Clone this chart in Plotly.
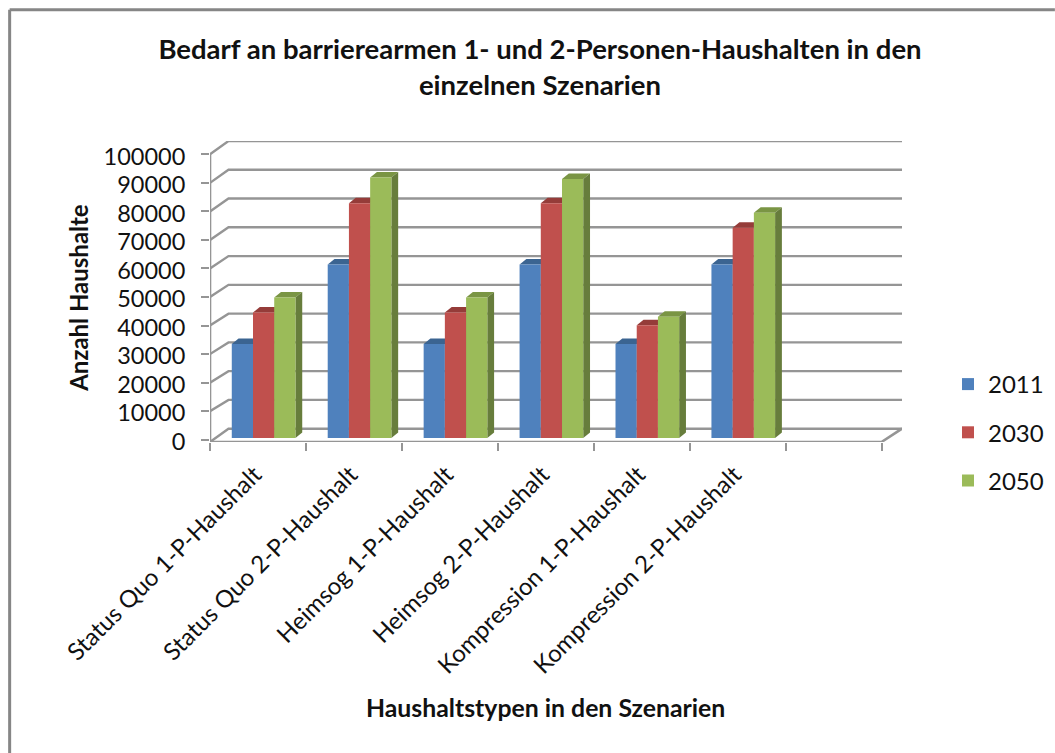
import plotly.graph_objects as go

categories = ["Status Quo 1-P-Haushalt", "Status Quo 2-P-Haushalt", "Heimsog 1-P-Haushalt",
              "Heimsog 2-P-Haushalt", "Kompression 1-P-Haushalt", "Kompression 2-P-Haushalt"]
v2011 = [33000, 60800, 33000, 60800, 33000, 60800]
v2030 = [44000, 82300, 44000, 82300, 39500, 73700]
v2050 = [49300, 91300, 49300, 90800, 42500, 79000]
names = ["2011", "2030", "2050"]
y_ticks = list(range(0, 100001, 10000))

W, H = 1055, 753
L, R, T, B = 209.5, 902, 141, 441.6
PX_X = 96.0
PX_Y = 0.00285
Y0_PX = 439.3
FONT = "Lato"
GRID = "#959595"

front = ["#4F81BD", "#C0504D", "#9BBB59"]
topc = ["#3B6491", "#953C39", "#7A9544"]
sidec = ["#3A5F8C", "#8E3A38", "#677D3C"]

ux = lambda px: (px - L) / PX_X          # pixel offset -> x units
uy = lambda py: (Y0_PX - py) / PX_Y      # pixel row -> y units
xr = [0, ux(R)]
yr = [uy(B), uy(T)]
pl_x = lambda p: (p - L) / (R - L)       # pixel column -> plot fraction
pl_y = lambda p: (B - p) / (B - T)       # pixel row -> plot fraction

fig = go.Figure()

# walls
wall_gain, wall_lift = 1.008, uy(428.3)
depth_x = 18.5 / PX_X
for v in y_ticks:
    yb = v * wall_gain + wall_lift
    y_front = v if v else yr[0]
    fig.add_trace(go.Scatter(x=[0, depth_x, xr[1]], y=[y_front, yb, yb], mode="lines", cliponaxis=False,
                             line=dict(color=GRID, width=2.4), showlegend=False, hoverinfo="skip"))
# axis lines and floor edge
fig.add_trace(go.Scatter(x=[0, 0], y=[yr[0], 100000], mode="lines", cliponaxis=False,
                         line=dict(color=GRID, width=2.6), showlegend=False, hoverinfo="skip"))
fig.add_trace(go.Scatter(x=[0, 7, xr[1]], y=[yr[0], yr[0], wall_lift], mode="lines", cliponaxis=False,
                         line=dict(color=GRID, width=2.6), showlegend=False, hoverinfo="skip"))

# bars geometry
GROUP = 63.7 / PX_X
bar_w = GROUP / 3
centers = [i + (21.8 / PX_X) + GROUP / 2 for i in range(len(categories))]
base = uy(437.7)
dx, dy = 6.8 / PX_X, 5.5 / PX_Y

series = [v2011, v2030, v2050]
# top and side faces are drawn on the lower axes, so the front faces cover what is hidden
for s, vals in enumerate(series):
    for c, val in zip(centers, vals):
        x0 = c - GROUP / 2 + s * bar_w
        x1 = x0 + bar_w
        t = base + val
        fig.add_trace(go.Scatter(x=[x0, x1, x1 + dx, x0 + dx, x0], y=[t, t, t + dy, t + dy, t],
                                 mode="lines", fill="toself", fillcolor=topc[s], line=dict(width=0),
                                 showlegend=False, hoverinfo="skip"))
        fig.add_trace(go.Scatter(x=[x1, x1 + dx, x1 + dx, x1, x1], y=[base, base + dy, t + dy, t, base],
                                 mode="lines", fill="toself", fillcolor=sidec[s], line=dict(width=0),
                                 showlegend=False, hoverinfo="skip"))

for s, vals in enumerate(series):
    fig.add_trace(go.Bar(x=centers, y=vals, base=base, name=names[s], width=bar_w,
                         offset=(s - 1.5) * bar_w, marker=dict(color=front[s], line=dict(width=0)),
                         xaxis="x2", yaxis="y2", legendgroup=names[s]))

fig.update_layout(
    width=W, height=H, autosize=False, margin=dict(l=L, r=W - R, t=T, b=H - B, pad=0),
    paper_bgcolor="white", plot_bgcolor="white",
    font=dict(family=FONT, size=24, color="#111111"),
    barmode="overlay",
    xaxis=dict(range=xr, tickmode="array", tickvals=list(range(8)), ticktext=[""] * 8, ticks="outside",
               ticklen=8, tickwidth=2.4, tickcolor=GRID, showgrid=False, zeroline=False, showline=False),
    yaxis=dict(range=yr, tickmode="array", tickvals=y_ticks, ticktext=[str(v) for v in y_ticks], ticks="outside",
               ticklen=8, tickwidth=2.4, tickcolor=GRID, showgrid=False, zeroline=False, showline=False,
               tickfont=dict(size=23.5), ticklabelstandoff=11, ticklabelshift=2),
    xaxis2=dict(range=xr, overlaying="x", anchor="y2", side="bottom", tickmode="array", tickvals=centers,
                ticktext=categories, tickangle=-45, ticks="", showgrid=False, zeroline=False, showline=False,
                tickfont=dict(size=24), ticklabelstandoff=13, ticklabelshift=-9),
    yaxis2=dict(range=yr, overlaying="y", anchor="x2", visible=False),
    legend=dict(xref="container", yref="container", x=948 / W, y=1 - 362 / H, xanchor="left", yanchor="top",
                tracegroupgap=14, font=dict(size=24), bgcolor="rgba(0,0,0,0)", itemclick=False),
    title=dict(text="Bedarf an barrierearmen 1- und 2-Personen-Haushalten in den<br>einzelnen Szenarien",
               x=540 / W, xanchor="center", y=1 - 59 / H, yanchor="middle",
               font=dict(family=FONT, size=27.5, color="#111111", weight="bold")),
    annotations=[
        dict(text="<b>Anzahl Haushalte</b>", xref="paper", yref="paper", x=pl_x(78), y=pl_y(298),
             xanchor="center", yanchor="middle", textangle=-90, showarrow=False, font=dict(size=24, family=FONT)),
        dict(text="<b>Haushaltstypen in den Szenarien</b>", xref="paper", yref="paper",
             x=pl_x(545), y=pl_y(707), xanchor="center", yanchor="middle", showarrow=False,
             font=dict(size=24.8, family=FONT)),
    ],
    shapes=[
        dict(type="line", xref="paper", yref="paper", x0=pl_x(9), x1=pl_x(W), y0=pl_y(10), y1=pl_y(10),
             line=dict(color="#868686", width=3)),
        dict(type="line", xref="paper", yref="paper", x0=pl_x(9), x1=pl_x(9), y0=pl_y(10), y1=pl_y(H),
             line=dict(color="#868686", width=3)),
    ],
)

fig.write_html("out.html", config={"displayModeBar": False}, post_script="document.body.style.margin='0';")
